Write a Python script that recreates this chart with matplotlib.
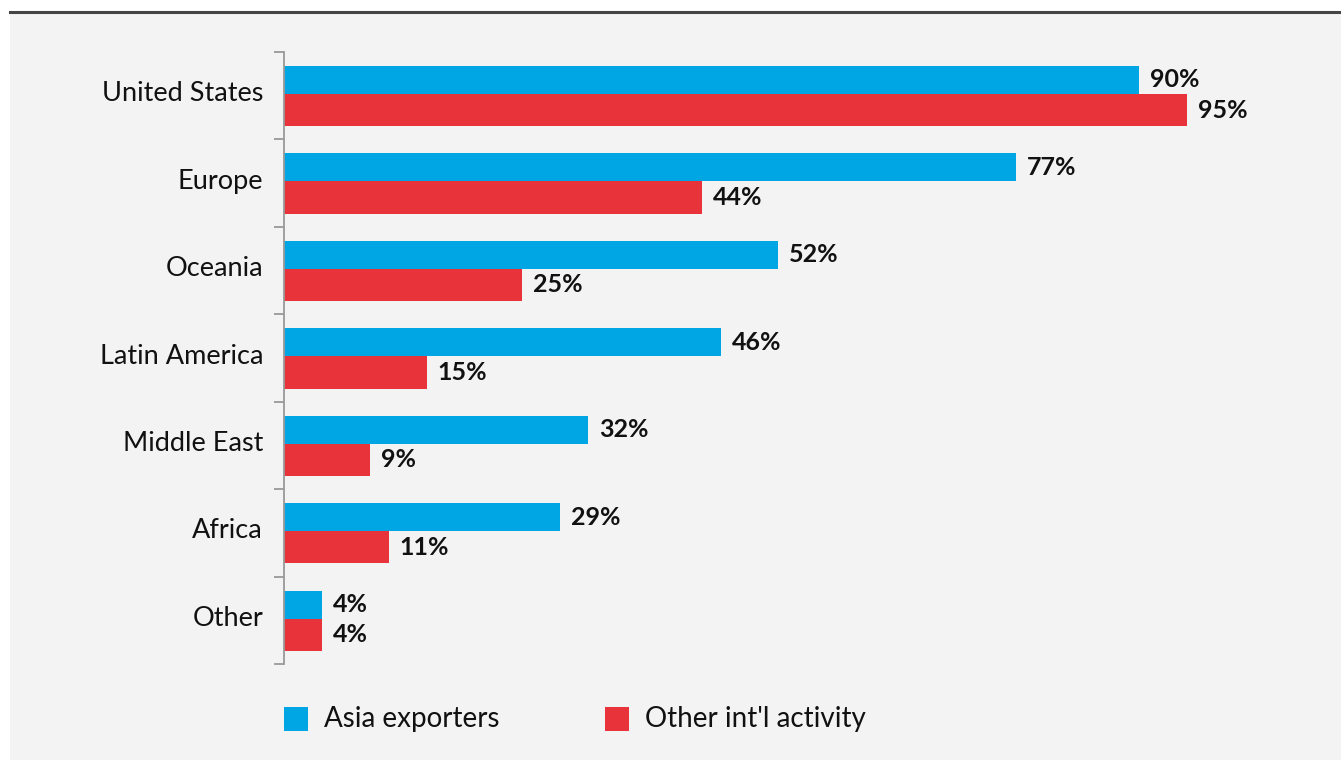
import numpy as np
import matplotlib as mpl
import matplotlib.pyplot as plt
from matplotlib.patches import Rectangle
from matplotlib.lines import Line2D

regions = ['United States', 'Europe', 'Oceania', 'Latin America', 'Middle East', 'Africa', 'Other']
asia_exporters = [90, 77, 52, 46, 32, 29, 4]
other_intl = [95, 44, 25, 15, 9, 11, 4]
series_names = ['Asia exporters', "Other int'l activity"]

blue = '#00a6e3'
red = '#e8333b'
bg = '#f3f3f3'

mpl.rcParams['font.family'] = ['Lato', 'DejaVu Sans']

dpi = 100
fig = plt.figure(dpi=dpi, figsize=(1341 / dpi, 760 / dpi))
fig.patch.set_facecolor('white')

# grey panel and dark rule on top
fig.patches.append(Rectangle((10 / 1341, 0), 1, 1 - 12 / 760, transform=fig.transFigure,
                             facecolor=bg, edgecolor='none', zorder=-10))
fig.lines.append(Line2D([10 / 1341, 1], [1 - 11.5 / 760] * 2, transform=fig.transFigure,
                        color='#444444', lw=2.2, zorder=-5))

ax = fig.add_axes([284 / 1341, 1 - 664 / 760, (1341 - 284) / 1341, 612 / 760])
ax.set_facecolor('none')
ax.set_zorder(2)

y = np.arange(len(regions))
b1 = ax.barh(y - 0.18, asia_exporters, height=0.32, color=blue)
b2 = ax.barh(y + 0.165, other_intl, height=0.37, color=red)

for bars, vals in ((b1, asia_exporters), (b2, other_intl)):
    for r, v in zip(bars, vals):
        ax.annotate(f'{v}%', (r.get_width(), r.get_y() + r.get_height() / 2),
                    xytext=(8, 0), textcoords='offset points', ha='left', va='center',
                    fontsize=18, fontweight='bold', color='#111111')

ax.set_xlim(0, (1341 - 284) / 9.5)
ax.set_ylim(len(regions) - 0.5, -0.5)

for s in ['top', 'right', 'bottom']:
    ax.spines[s].set_visible(False)
ax.spines['left'].set_color('#999999')
ax.spines['left'].set_linewidth(1.3)
ax.xaxis.set_visible(False)

ax.set_yticks(y - 0.05)
ax.set_yticklabels(regions, fontsize=19.5, color='#111111')
ax.tick_params(axis='y', which='major', length=0, pad=15)
ax.set_yticks(np.arange(-0.5, len(regions)), minor=True)
ax.tick_params(axis='y', which='minor', length=7.5, width=1.3, color='#999999', direction='out')

# legend
legend_items = [(284, blue), (605, red)]
for (x0, c), name in zip(legend_items, series_names):
    fig.patches.append(Rectangle((x0 / 1341, 1 - 731 / 760), 24 / 1341, 24 / 760,
                                 transform=fig.transFigure, facecolor=c, edgecolor='none'))
    fig.text((x0 + 40) / 1341, 1 - 719 / 760, name, fontsize=20, color='#111111',
             ha='left', va='center')

plt.savefig('out.png', dpi=dpi, facecolor=fig.get_facecolor())
